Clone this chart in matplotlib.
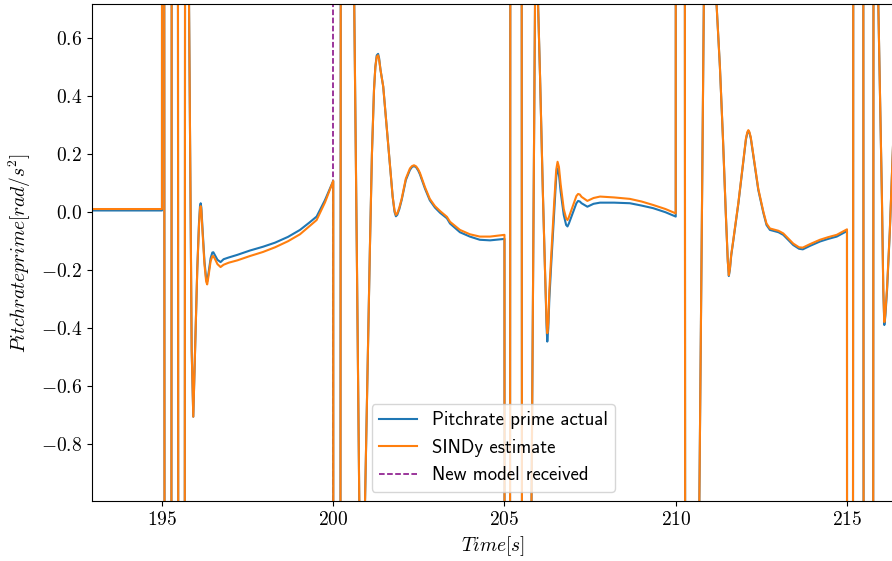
import matplotlib
matplotlib.use("Agg")
import matplotlib.pyplot as plt

plt.rcParams['font.family'] = 'cmr10'
plt.rcParams['mathtext.fontset'] = 'cm'
plt.rcParams['axes.formatter.use_mathtext'] = True
plt.rcParams['font.size'] = 14

# Datos (tiempo en s, pitch rate prime en rad/s^2)
time = [
    192.9, 195.0,
    # modelo 195
    195.003, 195.06, 195.08, 195.27, 195.29, 195.46, 195.48, 195.66, 195.68,
    195.76, 195.79, 195.867, 195.914, 195.95, 195.985, 196.03, 196.08, 196.11,
    196.13, 196.15, 196.18, 196.24, 196.29, 196.32, 196.36, 196.42, 196.47,
    196.50, 196.55, 196.62, 196.71, 196.80, 196.95, 197.2, 197.57, 197.95,
    198.30, 198.68, 199.03, 199.30, 199.515, 199.76, 200.0,
    # modelo 200
    200.003, 200.206, 200.226, 200.58, 200.613, 200.69, 200.76, 200.84, 200.93,
    201.00, 201.07, 201.13, 201.19, 201.23, 201.27, 201.31, 201.34, 201.38,
    201.46, 201.56, 201.66, 201.735, 201.79, 201.83, 201.87, 201.93, 201.998,
    202.12, 202.24, 202.30, 202.36, 202.42, 202.48, 202.53, 202.68, 202.82,
    202.97, 203.12, 203.32, 203.41, 203.70, 203.99, 204.28, 204.58, 205.0,
    # modelo 205
    205.003, 205.157, 205.177, 205.496, 205.516, 205.73, 205.79, 205.89, 205.93,
    205.98, 206.04, 206.12, 206.18, 206.23, 206.25, 206.28, 206.31, 206.36,
    206.45, 206.51, 206.55, 206.59, 206.64, 206.73, 206.80, 206.84, 206.88,
    206.99, 207.10, 207.15, 207.20, 207.25, 207.42, 207.60, 207.79, 208.20,
    208.66, 209.00, 209.34, 209.70, 210.0,
    # modelo 210
    210.003, 210.26, 210.28, 210.62, 210.69, 210.82, 210.92, 211.01, 211.10,
    211.19, 211.29, 211.38, 211.46, 211.52, 211.55, 211.58, 211.62, 211.68,
    211.83, 211.97, 212.05, 212.09, 212.12, 212.15, 212.19, 212.27, 212.41,
    212.56, 212.65, 212.75, 212.88, 213.0, 213.14, 213.43, 213.60, 213.71,
    213.92, 214.21, 214.45, 214.70, 215.0,
    # modelo 215
    215.003, 215.17, 215.19, 215.47, 215.49, 215.76, 215.78, 215.86, 215.914,
    215.97, 216.02, 216.06, 216.09, 216.12, 216.17, 216.25, 216.31, 216.40,
]

actual = [
    0.005, 0.005,
    2.5, 2.5, -2.5, -2.5, 2.5, 2.5, -2.5, -2.5, 2.5,
    2.5, 0.72, -0.476, -0.706, -0.55, -0.40, -0.2, -0.04, 0.02,
    0.03, 0.015, -0.05, -0.17, -0.23, -0.24, -0.21, -0.16, -0.14,
    -0.139, -0.15, -0.165, -0.173, -0.163, -0.157, -0.148, -0.133, -0.12,
    -0.106, -0.086, -0.062, -0.037, -0.016, 0.041, 0.107,
    -2.5, -2.5, 2.5, 2.5, 0.72, -0.15, -0.99, -1.3, -0.99,
    -0.55, -0.13, 0.2, 0.42, 0.50, 0.54, 0.545, 0.53, 0.49,
    0.432, 0.294, 0.156, 0.053, 0.0, -0.015, -0.01, 0.01, 0.041,
    0.11, 0.145, 0.155, 0.158, 0.154, 0.143, 0.13, 0.08, 0.04,
    0.015, -0.003, -0.022, -0.04, -0.07, -0.085, -0.096, -0.098, -0.093,
    -2.5, -2.5, 2.5, 2.5, -2.5, -2.5, -0.99, 0.72, 0.95,
    0.72, 0.46, 0.07, -0.19, -0.40, -0.447, -0.40, -0.30, -0.19,
    0.0, 0.12, 0.15, 0.13, 0.07, -0.01, -0.045, -0.05, -0.04,
    -0.005, 0.03, 0.038, 0.036, 0.03, 0.018, 0.028, 0.032, 0.032,
    0.03, 0.022, 0.013, -0.001, -0.016,
    2.5, 2.5, -2.5, -2.5, -0.99, 0.72, 1.0, 1.15, 1.0,
    0.72, 0.5, 0.25, 0.0, -0.17, -0.221, -0.20, -0.15, -0.10,
    0.03, 0.17, 0.25, 0.272, 0.279, 0.273, 0.255, 0.19, 0.076,
    -0.004, -0.045, -0.062, -0.066, -0.07, -0.079, -0.114, -0.127, -0.129,
    -0.117, -0.102, -0.093, -0.085, -0.066,
    -2.5, -2.5, 2.5, 2.5, -2.5, -2.5, 2.5, 1.5, 0.72,
    0.36, 0.05, -0.27, -0.39, -0.36, -0.27, -0.07, 0.122, 0.4,
]

sindy = [
    0.010, 0.010,
    2.5, 2.5, -2.5, -2.5, 2.5, 2.5, -2.5, -2.5, 2.5,
    2.5, 0.72, -0.476, -0.706, -0.55, -0.40, -0.2, -0.05, 0.01,
    0.02, 0.005, -0.06, -0.18, -0.24, -0.25, -0.22, -0.17, -0.153,
    -0.152, -0.163, -0.18, -0.19, -0.182, -0.175, -0.167, -0.152, -0.138,
    -0.122, -0.101, -0.077, -0.050, -0.028, 0.033, 0.107,
    -2.5, -2.5, 2.5, 2.5, 0.72, -0.15, -0.99, -1.3, -0.99,
    -0.55, -0.13, 0.2, 0.42, 0.50, 0.535, 0.54, 0.525, 0.49,
    0.432, 0.294, 0.156, 0.053, 0.005, -0.01, -0.005, 0.015, 0.045,
    0.115, 0.15, 0.158, 0.161, 0.157, 0.147, 0.135, 0.085, 0.045,
    0.02, 0.003, -0.017, -0.034, -0.062, -0.077, -0.085, -0.085, -0.079,
    -2.5, -2.5, 2.5, 2.5, -2.5, -2.5, -0.99, 0.72, 0.95,
    0.72, 0.46, 0.07, -0.19, -0.38, -0.418, -0.38, -0.27, -0.16,
    0.03, 0.145, 0.173, 0.155, 0.095, 0.01, -0.022, -0.028, -0.018,
    0.018, 0.055, 0.062, 0.06, 0.052, 0.038, 0.048, 0.053, 0.05,
    0.045, 0.036, 0.024, 0.01, -0.005,
    2.5, 2.5, -2.5, -2.5, -0.99, 0.72, 1.0, 1.15, 1.0,
    0.72, 0.5, 0.25, 0.0, -0.17, -0.218, -0.197, -0.147, -0.097,
    0.033, 0.173, 0.253, 0.275, 0.282, 0.276, 0.258, 0.193, 0.08,
    0.0, -0.04, -0.057, -0.061, -0.065, -0.074, -0.109, -0.122, -0.123,
    -0.111, -0.096, -0.087, -0.079, -0.06,
    -2.5, -2.5, 2.5, 2.5, -2.5, -2.5, 2.5, 1.5, 0.72,
    0.36, 0.05, -0.27, -0.38, -0.35, -0.26, -0.065, 0.125, 0.4,
]

new_model_time = 200.0

fig = plt.figure(figsize=(8.92, 5.61), dpi=100)
ax = fig.add_axes([0.1031, 0.1070, 0.9, 0.8859])

ax.plot(time, actual, color='#1f77b4', lw=1.5, label='Pitchrate prime actual')
ax.plot(time, sindy, color='#ff7f0e', lw=1.5, label='SINDy estimate')
ax.axvline(new_model_time, color='purple', ls='--', lw=1.1, zorder=1,
           label='New model received')

ax.set_xlim(192.956, 216.395)
ax.set_ylim(-0.9966, 0.717)
ax.set_xticks([195, 200, 205, 210, 215])
ax.set_yticks([-0.8, -0.6, -0.4, -0.2, 0.0, 0.2, 0.4, 0.6])
ax.set_xlabel(r'$Time[s]$')
ax.set_ylabel(r'$Pitchrate prime[rad/s^2]$', labelpad=6)

ax.legend(loc='lower center', prop={'family': 'cmss10', 'size': 13.5})

fig.savefig('out.png', dpi=100)
